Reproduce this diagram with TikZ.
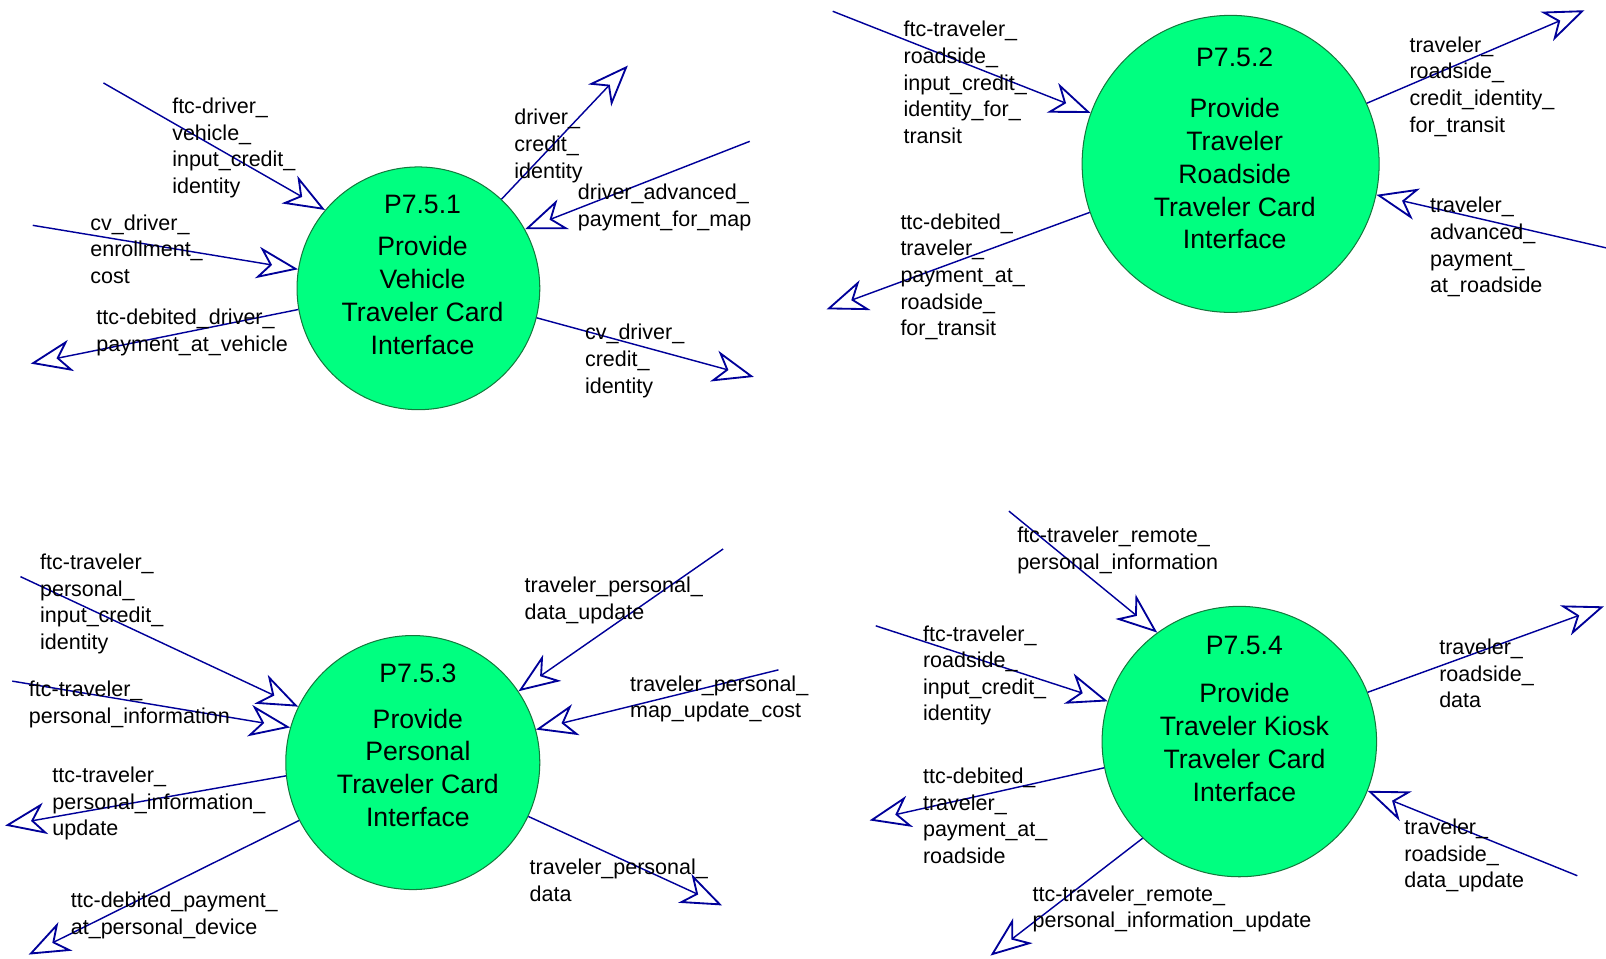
\documentclass[tikz,border=0pt]{standalone}
\usepackage{fontspec}
\setmainfont{Liberation Sans}
\usetikzlibrary{arrows.meta,shapes.geometric}
\definecolor{procgreen}{RGB}{0,255,128}
\definecolor{procedge}{RGB}{20,120,60}
\definecolor{flowblue}{RGB}{0,0,153}
\newcommand{\lblfont}{\fontsize{21}{26}\selectfont}
\newcommand{\procfont}{\fontsize{26}{32}\selectfont}

\begin{document}
\begin{tikzpicture}[x=1pt, y=-1pt,
  proc/.style={ellipse, draw=procedge, fill=procgreen, line width=1pt, inner sep=0pt},
  ptitle/.style={align=center, font=\procfont, inner sep=0pt},
  lbl/.style={anchor=north west, align=left, font=\lblfont, inner sep=0pt, yshift=-2.5pt},
  flow/.style={flowblue, line width=1.4pt, -{Stealth[open, length=40pt, width=31pt, inset=12pt, line width=1.8pt]}}]
\useasboundingbox (0,0) rectangle (1568,936);

% P7.5.1 vehicle
\node[proc, minimum width=237pt, minimum height=237pt] (p751) at (408.5,281.5) {};
\node[ptitle] (p751t) at ([shift={(4,-13)}]p751.center) {P7.5.1\\[9pt]Provide\\Vehicle\\Traveler Card\\Interface};
\coordinate (drvin) at (101,81);
\coordinate (cvenr) at (32,220);
\coordinate (drvpay) at (30,355);
\coordinate (drvid) at (613,64);
\coordinate (drvadv) at (732,138);
\coordinate (cvid) at (736,368);
\draw[flow] (drvin) -- (p751.140);
\draw[flow] (cvenr) -- (p751.171);
\draw[flow] (p751.190) -- (drvpay);
\draw[flow] (p751.47) -- (drvid);
\draw[flow] (drvadv) -- (p751.29);
\draw[flow] (p751.346) -- (cvid);
\node[lbl] (l1) at (168,93) {ftc-driver\_\\vehicle\_\\input\_credit\_\\identity};
\node[lbl] (l2) at (88,207) {cv\_driver\_\\enrollment\_\\cost};
\node[lbl] (l3) at (94,299) {ttc-debited\_driver\_\\payment\_at\_vehicle};
\node[lbl] (l4) at (502,104) {driver\_\\credit\_\\identity};
\node[lbl] (l5) at (564,177) {driver\_advanced\_\\payment\_for\_map};
\node[lbl] (l6) at (571,314) {cv\_driver\_\\credit\_\\identity};

% P7.5.2 roadside
\node[proc, minimum width=290pt, minimum height=290pt] (p752) at (1201.5,160) {};
\node[ptitle] (p752t) at ([shift={(4,-15)}]p752.center) {P7.5.2\\[18pt]Provide\\Traveler\\Roadside\\Traveler Card\\Interface};
\coordinate (rdsin) at (813,11);
\coordinate (rdspay) at (807,302);
\coordinate (rdsid) at (1547,10);
\coordinate (rdsadv) at (1568,242);
\draw[flow] (rdsin) -- (p752.160);
\draw[flow] (p752.199) -- (rdspay);
\draw[flow] (p752.24) -- (rdsid);
\draw[flow] (rdsadv) -- (p752.348);
\node[lbl] (l7) at (882,18) {ftc-traveler\_\\roadside\_\\input\_credit\_\\identity\_for\_\\transit};
\node[lbl] (l8) at (879,206) {ttc-debited\_\\traveler\_\\payment\_at\_\\roadside\_\\for\_transit};
\node[lbl] (l9) at (1376,33) {traveler\_\\roadside\_\\credit\_identity\_\\for\_transit};
\node[lbl] (l10) at (1396,190) {traveler\_\\advanced\_\\payment\_\\at\_roadside};

% P7.5.3 personal device
\node[proc, minimum width=248pt, minimum height=248pt] (p753) at (403,744.5) {};
\node[ptitle] (p753t) at ([shift={(5,-17)}]p753.center) {P7.5.3\\[13pt]Provide\\Personal\\Traveler Card\\Interface};
\coordinate (perin) at (20,563);
\coordinate (perinfo) at (12,665);
\coordinate (perupd) at (5,806);
\coordinate (perpay) at (28,932);
\coordinate (perdupd) at (706,536);
\coordinate (permap) at (760,654);
\coordinate (perdata) at (705,884);
\draw[flow] (perin) -- (p753.154);
\draw[flow] (perinfo) -- (p753.164);
\draw[flow] (p753.186) -- (perupd);
\draw[flow] (p753.207) -- (perpay);
\draw[flow] (perdupd) -- (p753.34);
\draw[flow] (permap) -- (p753.15);
\draw[flow] (p753.335) -- (perdata);
\node[lbl] (l11) at (39,538) {ftc-traveler\_\\personal\_\\input\_credit\_\\identity};
\node[lbl] (l12) at (28,662) {ftc-traveler\_\\personal\_information};
\node[lbl] (l13) at (51,746) {ttc-traveler\_\\personal\_information\_\\update};
\node[lbl] (l14) at (69,868) {ttc-debited\_payment\_\\at\_personal\_device};
\node[lbl] (l15) at (512,561) {traveler\_personal\_\\data\_update};
\node[lbl] (l16) at (615,657) {traveler\_personal\_\\map\_update\_cost};
\node[lbl] (l17) at (517,836) {traveler\_personal\_\\data};

% P7.5.4 kiosk
\node[proc, minimum width=268pt, minimum height=264pt] (p754) at (1210,724) {};
\node[ptitle] (p754t) at ([shift={(5,-22)}]p754.center) {P7.5.4\\[15pt]Provide\\Traveler Kiosk\\Traveler Card\\Interface};
\coordinate (kioin) at (985,499);
\coordinate (kiords) at (855,611);
\coordinate (kiopay) at (849,801);
\coordinate (kioupd) at (967,933);
\coordinate (kiodata) at (1566,592);
\coordinate (kiodupd) at (1540,855);
\draw[flow] (kioin) -- (p754.127);
\draw[flow] (kiords) -- (p754.163);
\draw[flow] (p754.191) -- (kiopay);
\draw[flow] (p754.225) -- (kioupd);
\draw[flow] (p754.21) -- (kiodata);
\draw[flow] (kiodupd) -- (p754.339);
\node[lbl] (l18) at (993,512) {ftc-traveler\_remote\_\\personal\_information};
\node[lbl] (l19) at (901,608) {ftc-traveler\_\\roadside\_\\input\_credit\_\\identity};
\node[lbl] (l20) at (901,747) {ttc-debited\_\\traveler\_\\payment\_at\_\\roadside};
\node[lbl] (l21) at (1008,862) {ttc-traveler\_remote\_\\personal\_information\_update};
\node[lbl] (l22) at (1405,621) {traveler\_\\roadside\_\\data};
\node[lbl] (l23) at (1371,797) {traveler\_\\roadside\_\\data\_update};
\end{tikzpicture}
\end{document}
